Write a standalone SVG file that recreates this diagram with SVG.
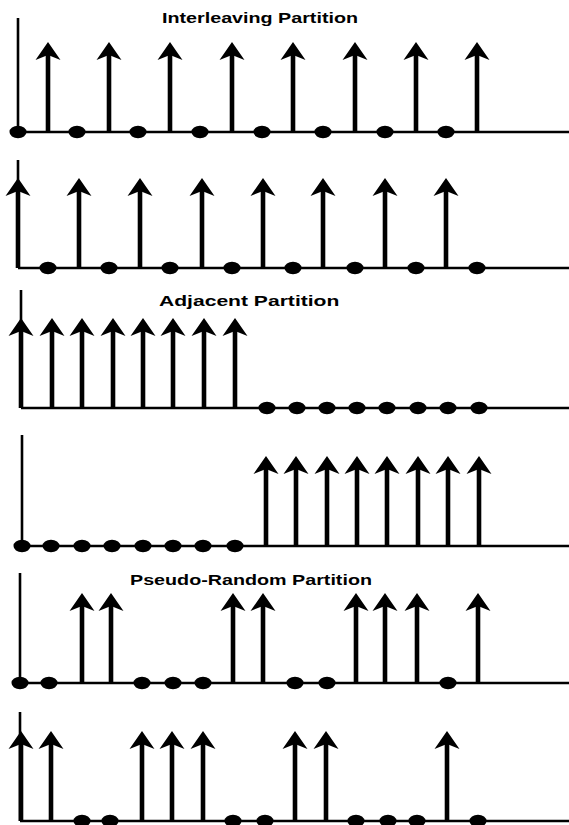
<svg xmlns="http://www.w3.org/2000/svg" width="569" height="825" viewBox="0 0 569 825">
<style>
.axis{stroke:#000;stroke-width:2.6;fill:none}
.base{stroke:#000;stroke-width:2.4;fill:none}
.title{font-family:"Liberation Sans",Arial,sans-serif;font-weight:bold;font-size:14.5px;fill:#000}
</style>
<defs>
<g id="up">
<line x1="0" y1="0" x2="0" y2="-78" stroke="#000" stroke-width="4.6"/>
<polygon points="0,-90 12.5,-72 0,-77 -12.5,-72" fill="#000"/>
</g>
<ellipse id="dot" cx="0" cy="0" rx="8.5" ry="6.2" fill="#000"/>
</defs>
<rect width="569" height="825" fill="#fff"/>

<g id="title-interleaving"><text class="title" transform="translate(162,23) scale(1.36,1)">Interleaving Partition</text></g>
<g id="title-adjacent"><text class="title" style="font-size:15.5px" transform="translate(159,306) scale(1.36,1)">Adjacent Partition</text></g>
<g id="title-pseudo"><text class="title" transform="translate(130,585) scale(1.36,1)">Pseudo-Random Partition</text></g>

<g id="panel1">
<line class="axis" x1="18" y1="18" x2="18" y2="132"/>
<line class="base" x1="18" y1="132" x2="569" y2="132"/>
<use href="#up" x="48" y="132"/><use href="#up" x="109" y="132"/><use href="#up" x="170" y="132"/><use href="#up" x="232" y="132"/>
<use href="#up" x="293" y="132"/><use href="#up" x="355" y="132"/><use href="#up" x="416" y="132"/><use href="#up" x="477" y="132"/>
<use href="#dot" x="18" y="132"/><use href="#dot" x="77" y="132"/><use href="#dot" x="138" y="132"/><use href="#dot" x="200" y="132"/>
<use href="#dot" x="262" y="132"/><use href="#dot" x="323" y="132"/><use href="#dot" x="385" y="132"/><use href="#dot" x="446" y="132"/>
</g>

<g id="panel2">
<line class="axis" x1="18" y1="160" x2="18" y2="268"/>
<line class="base" x1="18" y1="268" x2="569" y2="268"/>
<use href="#up" x="18" y="268"/><use href="#up" x="79" y="268"/><use href="#up" x="140" y="268"/><use href="#up" x="202" y="268"/>
<use href="#up" x="263" y="268"/><use href="#up" x="323" y="268"/><use href="#up" x="385" y="268"/><use href="#up" x="446" y="268"/>
<use href="#dot" x="48" y="268"/><use href="#dot" x="109" y="268"/><use href="#dot" x="170" y="268"/><use href="#dot" x="232" y="268"/>
<use href="#dot" x="293" y="268"/><use href="#dot" x="355" y="268"/><use href="#dot" x="416" y="268"/><use href="#dot" x="477" y="268"/>
</g>

<g id="panel3">
<line class="axis" x1="21" y1="290" x2="21" y2="408"/>
<line class="base" x1="21" y1="408" x2="569" y2="408"/>
<use href="#up" x="21" y="408"/><use href="#up" x="52" y="408"/><use href="#up" x="82" y="408"/><use href="#up" x="113" y="408"/>
<use href="#up" x="143" y="408"/><use href="#up" x="173" y="408"/><use href="#up" x="204" y="408"/><use href="#up" x="235" y="408"/>
<use href="#dot" x="267" y="408"/><use href="#dot" x="297" y="408"/><use href="#dot" x="327" y="408"/><use href="#dot" x="357" y="408"/>
<use href="#dot" x="387" y="408"/><use href="#dot" x="418" y="408"/><use href="#dot" x="448" y="408"/><use href="#dot" x="479" y="408"/>
</g>

<g id="panel4">
<line class="axis" x1="22" y1="435" x2="22" y2="546"/>
<line class="base" x1="22" y1="546" x2="569" y2="546"/>
<use href="#dot" x="22" y="546"/><use href="#dot" x="51" y="546"/><use href="#dot" x="82" y="546"/><use href="#dot" x="112" y="546"/>
<use href="#dot" x="143" y="546"/><use href="#dot" x="173" y="546"/><use href="#dot" x="203" y="546"/><use href="#dot" x="235" y="546"/>
<use href="#up" x="266" y="546"/><use href="#up" x="296" y="546"/><use href="#up" x="327" y="546"/><use href="#up" x="357" y="546"/>
<use href="#up" x="387" y="546"/><use href="#up" x="418" y="546"/><use href="#up" x="448" y="546"/><use href="#up" x="479" y="546"/>
</g>

<g id="panel5">
<line class="axis" x1="20" y1="573" x2="20" y2="683"/>
<line class="base" x1="20" y1="683" x2="569" y2="683"/>
<use href="#dot" x="20" y="683"/><use href="#dot" x="49" y="683"/><use href="#dot" x="142" y="683"/><use href="#dot" x="173" y="683"/>
<use href="#dot" x="203" y="683"/><use href="#dot" x="295" y="683"/><use href="#dot" x="327" y="683"/><use href="#dot" x="448" y="683"/>
<use href="#up" x="82" y="683"/><use href="#up" x="111" y="683"/><use href="#up" x="233" y="683"/><use href="#up" x="263" y="683"/>
<use href="#up" x="356" y="683"/><use href="#up" x="385" y="683"/><use href="#up" x="417" y="683"/><use href="#up" x="478" y="683"/>
</g>

<g id="panel6">
<line class="axis" x1="20" y1="712" x2="20" y2="821"/>
<line class="base" x1="20" y1="821" x2="569" y2="821"/>
<use href="#up" x="21" y="821"/><use href="#up" x="51" y="821"/><use href="#up" x="142" y="821"/><use href="#up" x="172" y="821"/>
<use href="#up" x="203" y="821"/><use href="#up" x="295" y="821"/><use href="#up" x="326" y="821"/><use href="#up" x="447" y="821"/>
<use href="#dot" x="82" y="821"/><use href="#dot" x="110" y="821"/><use href="#dot" x="233" y="821"/><use href="#dot" x="265" y="821"/>
<use href="#dot" x="356" y="821"/><use href="#dot" x="388" y="821"/><use href="#dot" x="417" y="821"/><use href="#dot" x="478" y="821"/>
</g>
</svg>
